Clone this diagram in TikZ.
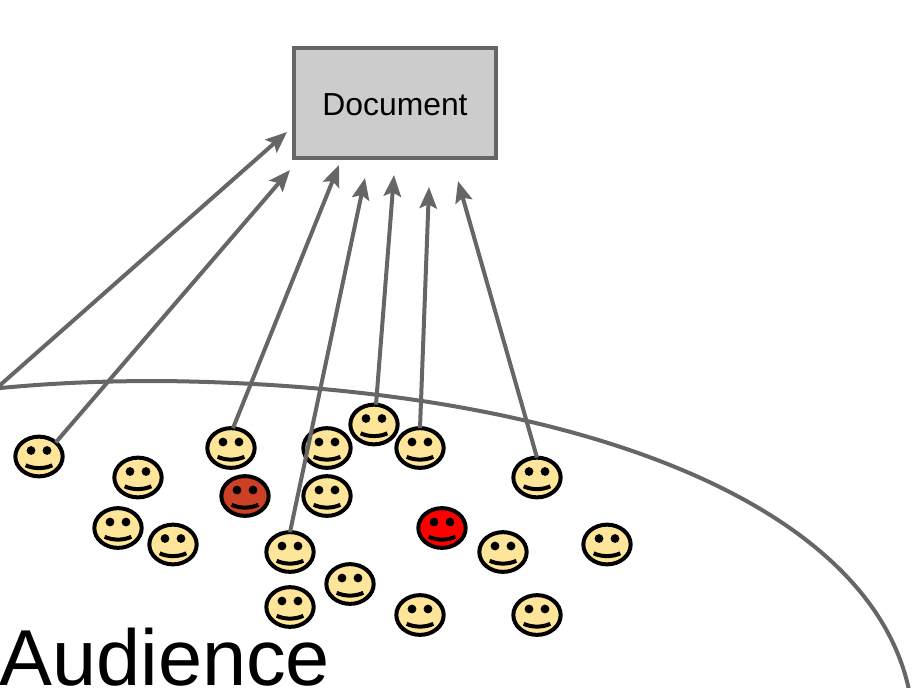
\documentclass[tikz,border=0pt]{standalone}
\usepackage{fontspec}
\setmainfont{Liberation Sans}
\usetikzlibrary{shapes.geometric,arrows.meta}
\definecolor{linegray}{HTML}{666666}
\definecolor{boxgray}{HTML}{CCCCCC}
\definecolor{skin}{HTML}{FFE599}
\definecolor{hotred}{HTML}{FF0000}
\definecolor{rust}{HTML}{CC4125}
\tikzset{
  smiley/.style={ellipse,draw=black,line width=3pt,fill=skin,inner sep=0pt,outer sep=0pt,
    minimum width=35.5pt,minimum height=29.8pt,
    path picture={
      \fill[black] ([xshift=-6pt,yshift=4.5pt]path picture bounding box.center) circle (3.3pt);
      \fill[black] ([xshift=6pt,yshift=4.5pt]path picture bounding box.center) circle (3.3pt);
      \draw[black,line width=3pt]
        ([xshift=-10pt,yshift=-6.6pt]path picture bounding box.center)
        .. controls ([xshift=-4pt,yshift=-9.4pt]path picture bounding box.center)
        and ([xshift=4pt,yshift=-9.4pt]path picture bounding box.center)
        .. ([xshift=10pt,yshift=-6.6pt]path picture bounding box.center);
    }},
  link/.style={draw=linegray,line width=3pt,-{Stealth[length=16pt,width=13pt,inset=3pt]}},
  hull/.style={draw=linegray,line width=3pt},
  docbox/.style={draw=linegray,line width=3pt,fill=boxgray,minimum width=151.5pt,minimum height=82.5pt,inner sep=0pt,text height=18.5pt,text depth=0pt},
}
\begin{document}
\begin{tikzpicture}[x=0.75pt,y=-0.75pt]
\useasboundingbox (0,0) rectangle (913,687);
\clip (0,0) rectangle (913,687);
\draw[hull] (-10,389) .. controls (50,383) and (100,381) .. (160,381)
  .. controls (560,385) and (868,497) .. (909,690);
\node[docbox] (doc) at (395,103) {\fontsize{23.9pt}{28pt}\selectfont Document};
\node[anchor=base west,inner sep=0pt] (aud) at (-1,685.5) {\fontsize{59.5pt}{66pt}\selectfont Audience};
\node[smiley] (a) at (39,456.5) {};
\node[smiley] (b) at (138,477.5) {};
\node[smiley] (c) at (118,528) {};
\node[smiley] (d) at (173,544.5) {};
\node[smiley] (e) at (231,448) {};
\node[smiley,fill=rust] (f) at (245,496) {};
\node[smiley] (g) at (327,448) {};
\node[smiley] (h) at (327,496) {};
\node[smiley] (i) at (374,424.5) {};
\node[smiley] (j) at (420,448) {};
\node[smiley] (k) at (537,477.5) {};
\node[smiley,fill=hotred] (l) at (442,528) {};
\node[smiley] (m) at (503,552) {};
\node[smiley] (n) at (607,544.5) {};
\node[smiley] (o) at (290,552) {};
\node[smiley] (p) at (350,584) {};
\node[smiley] (q) at (290,607) {};
\node[smiley] (r) at (420,615) {};
\node[smiley] (s) at (537,615) {};
\coordinate (off) at (-10,394);
\coordinate (t1) at (287,132);
\coordinate (t2) at (290,170);
\coordinate (t3) at (339,165);
\coordinate (t4) at (365,178);
\coordinate (t5) at (394,175);
\coordinate (t6) at (429,187);
\coordinate (t7) at (458,181);
\draw[link] (off) -- (t1);
\draw[link] (a.40) -- (t2);
\draw[link] (e.north) ++(2,0) -- (t3);
\draw[link] (o.north) -- (t4);
\draw[link] (i.north) ++(2,0) -- (t5);
\draw[link] (j.north) -- (t6);
\draw[link] (k.north) -- (t7);
\end{tikzpicture}
\end{document}
